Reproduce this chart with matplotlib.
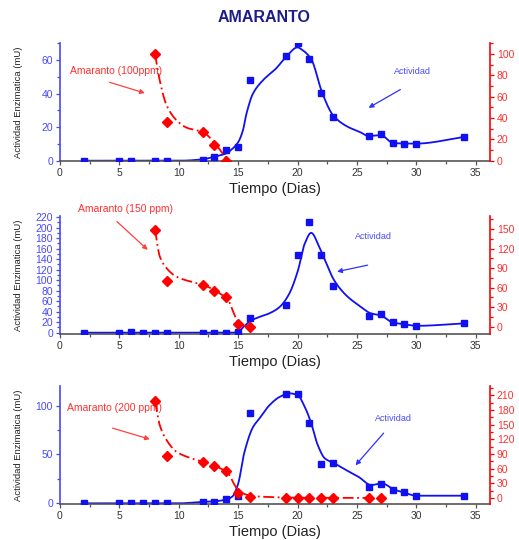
import numpy as np
import matplotlib
matplotlib.use("Agg")
import matplotlib.pyplot as plt
from matplotlib.ticker import MultipleLocator

plt.rcParams['font.family'] = ['Liberation Sans', 'DejaVu Sans']

# ---------------- data ----------------
# Panel 1 : Amaranto 100 ppm
days_act_1 = [2, 5, 6, 8, 9, 12, 13, 14, 15, 16, 19, 20, 21, 22, 23, 26, 27, 28, 29, 30, 34]
act_1 = [0, 0, 0, 0, 0, 0.3, 2.2, 6.2, 8.2, 48, 62.5, 70, 60.3, 40.2, 26.3, 14.6, 15.8, 10.4, 10.2, 10.2, 14.1]
days_conc_1 = [8, 9, 12, 13, 14]
conc_1 = [100, 36, 26.7, 14.5, 0]
fit_act_x_1 = [2, 10, 12, 13, 14, 14.5, 15, 15.4, 15.7, 16.25, 17.1, 18.2, 19.05, 20, 20.4, 21.15, 22.1, 23, 24.2, 25.2, 26, 27, 28, 29, 30, 34]
fit_act_y_1 = [0, 0, 0.8, 2.4, 4.4, 7, 11, 18, 28, 40, 48, 55, 62, 67.5, 66, 60.5, 40, 27, 20.3, 17.3, 14.7, 15.3, 10.7, 10.2, 10.2, 14.1]
fit_conc_x_1 = [8, 8.4, 8.97, 9.8, 10.65, 12.05, 13.2, 14.15, 14.4]
fit_conc_y_1 = [100, 75, 52, 38, 31, 26.7, 14, 0, -3]

# Panel 2 : Amaranto 150 ppm
days_act_2 = [2, 5, 6, 7, 8, 9, 12, 13, 14, 15, 16, 19, 20, 21, 22, 23, 26, 27, 28, 29, 30, 34]
act_2 = [0, 0, 2, 0, 0, 0, 0, 0, 0, 2, 27, 53.6, 148, 211, 148, 88, 32, 35, 19.6, 16, 13, 17.6]
days_conc_2 = [8, 9, 12, 13, 14, 15, 16]
conc_2 = [149, 71, 64, 55, 45, 4, 0]
fit_act_x_2 = [2, 14.5, 15, 15.5, 16, 16.8, 17.65, 18.5, 19.3, 20.03, 20.6, 21.15, 21.85, 22.27, 23.1, 24.1, 25.15, 26.2, 27, 28, 29, 30, 34]
fit_act_y_2 = [0, 0, 2, 12, 22, 30, 37, 49, 74, 118, 169, 190, 162, 140, 99, 71, 52, 36.6, 33, 19.6, 16, 13, 17.6]
fit_conc_x_2 = [8, 8.4, 8.97, 9.8, 11.07, 12.1, 13.2, 14.15, 14.7, 15.1, 16]
fit_conc_y_2 = [149, 108, 90, 77, 69, 64, 54, 41, 18, 4, 0]

# Panel 3 : Amaranto 200 ppm
days_act_3 = [2, 5, 6, 7, 8, 9, 12, 13, 14, 15, 16, 19, 20, 21, 22, 23, 26, 27, 28, 29, 30, 34]
act_3 = [0, 0, 0, 0, 0, 0, 1.7, 1.7, 4, 7.5, 92, 111.5, 111.5, 82, 40, 41.6, 16.4, 19.8, 13.6, 11.6, 7.8, 7.8]
days_conc_3 = [8, 9, 12, 13, 14, 15, 16, 19, 20, 21, 22, 23, 26, 27]
conc_3 = [198, 86, 73.6, 65, 54.5, 11, 2.7, 0, 0, 0, 0, 0, 0, 0]
fit_act_x_3 = [2, 10, 12, 13, 14, 14.5, 15, 15.5, 16.25, 16.8, 17.65, 18.5, 19.3, 20.0, 20.6, 21.15, 21.7, 22.3, 23.1, 24.1, 25.15, 26.2, 27.1, 28.1, 29, 30, 34]
fit_act_y_3 = [0, 0, 1.5, 2, 4, 6.8, 20, 51, 78, 87, 100.6, 109, 112.6, 110.8, 99, 82, 59.7, 46, 41, 34, 27, 18.7, 20.5, 14.3, 10.9, 7.8, 7.8]
fit_conc_x_3 = [8, 8.4, 8.97, 9.8, 11.07, 12.1, 13.2, 14.15, 14.7, 15.1, 16.25, 17.5, 20, 27]
fit_conc_y_3 = [198, 149, 118.6, 94.7, 81, 73.6, 64, 50.5, 26.6, 13, 4, 2, 0.5, 0]

labels_conc = ["Amaranto (100ppm)", "Amaranto (150 ppm)", "Amaranto (200 ppm)"]
title = "AMARANTO"
xlabel = "Tiempo (Dias)"
ylabel = "Actividad Enzimatica (mU)"
label_act = "Actividad"


def pchip(xk, yk, n=400):
    xk = np.asarray(xk, float)
    yk = np.asarray(yk, float)
    h = np.diff(xk)
    d = np.diff(yk) / h
    m = np.zeros_like(xk)
    for i in range(1, len(xk) - 1):
        if d[i - 1] * d[i] > 0:
            w1 = 2 * h[i] + h[i - 1]
            w2 = h[i] + 2 * h[i - 1]
            m[i] = (w1 + w2) / (w1 / d[i - 1] + w2 / d[i])
    m[0] = d[0]
    m[-1] = d[-1]
    xs = np.linspace(xk[0], xk[-1], n)
    idx = np.clip(np.searchsorted(xk, xs) - 1, 0, len(xk) - 2)
    t = (xs - xk[idx]) / h[idx]
    h00 = 2 * t**3 - 3 * t**2 + 1
    h10 = t**3 - 2 * t**2 + t
    h01 = -2 * t**3 + 3 * t**2
    h11 = t**3 - t**2
    ys = h00 * yk[idx] + h10 * h[idx] * m[idx] + h01 * yk[idx + 1] + h11 * h[idx] * m[idx + 1]
    return xs, ys


BLUE = "#1010f0"
BLUE_TXT = "#4848ff"
RED = "#ff0000"
RED_TXT = "#ff3030"

fig = plt.figure(figsize=(5.19, 5.40), dpi=100)
fig.text(0.508, 0.968, title, ha="center", va="center", fontsize=11.5, fontweight="bold", color="#1c1c8a")

panels = [
    dict(rect=[0.1156, 0.7024, 0.8284, 0.2176], act=(days_act_1, act_1), conc=(days_conc_1, conc_1),
         fa=(fit_act_x_1, fit_act_y_1), fc=(fit_conc_x_1, fit_conc_y_1),
         ylim_l=(0, 70), ylim_r=(0, 110), maj_l=20, min_l=10, maj_r=20, min_r=10,
         lab=(0.84, 53.5), arr_r=((3.95, 47.2), (7.37, 39.8)),
         act_txt=(28.15, 53.4), arr_b=((28.86, 43.2), (25.78, 30.7))),
    dict(rect=[0.1156, 0.3815, 0.8284, 0.2185], act=(days_act_2, act_2), conc=(days_conc_2, conc_2),
         fa=(fit_act_x_2, fit_act_y_2), fc=(fit_conc_x_2, fit_conc_y_2),
         ylim_l=(-2.5, 222), ylim_r=(-11, 170), maj_l=20, min_l=10, maj_r=30, min_r=15,
         lab=(1.51, 234.7), arr_r=((4.62, 215), (7.56, 154)),
         act_txt=(24.85, 182.5), arr_b=((26.13, 129.6), (23.1, 115))),
    dict(rect=[0.1156, 0.0661, 0.8284, 0.2189], act=(days_act_3, act_3), conc=(days_conc_3, conc_3),
         fa=(fit_act_x_3, fit_act_y_3), fc=(fit_conc_x_3, fit_conc_y_3),
         ylim_l=(-1, 120), ylim_r=(-13, 229), maj_l=50, min_l=25, maj_r=30, min_r=15,
         lab=(0.56, 97.8), arr_r=((4.2, 77.8), (7.79, 64.8)),
         act_txt=(26.55, 86.6), arr_b=((27.4, 74), (24.73, 36.8))),
]

for i, p in enumerate(panels):
    ax = fig.add_axes(p["rect"])
    axr = ax.twinx()
    # activity (left axis)
    fx, fy = pchip(*p["fa"])
    ax.plot(fx, fy, color=BLUE, lw=1.3, zorder=2)
    ax.plot(p["act"][0], p["act"][1], ls="none", marker="s", ms=5, color=BLUE, zorder=3)
    # concentration (right axis)
    cx, cy = pchip(*p["fc"])
    axr.plot(cx, cy, color=RED, lw=1.3, ls=(0, (6, 2, 1, 2)), zorder=2)
    axr.plot(p["conc"][0], p["conc"][1], ls="none", marker="D", ms=5, color=RED, zorder=3)

    ax.set_xlim(0, 36.2)
    ax.set_ylim(*p["ylim_l"])
    axr.set_ylim(*p["ylim_r"])

    ax.xaxis.set_major_locator(MultipleLocator(5))
    ax.xaxis.set_minor_locator(MultipleLocator(2.5))
    ax.yaxis.set_major_locator(MultipleLocator(p["maj_l"]))
    ax.yaxis.set_minor_locator(MultipleLocator(p["min_l"]))
    axr.yaxis.set_major_locator(MultipleLocator(p["maj_r"]))
    axr.yaxis.set_minor_locator(MultipleLocator(p["min_r"]))

    for a in (ax, axr):
        a.spines["top"].set_visible(False)
        a.patch.set_visible(False)
    ax.spines["right"].set_visible(False)
    axr.spines["left"].set_visible(False)
    axr.spines["bottom"].set_visible(False)
    ax.spines["left"].set_color(BLUE_TXT)
    axr.spines["right"].set_color(RED)
    ax.spines["bottom"].set_color("#555555")
    ax.spines["left"].set_linewidth(1.2)
    axr.spines["right"].set_linewidth(1.2)
    ax.spines["bottom"].set_linewidth(1.2)

    ax.tick_params(axis="x", which="both", direction="out", colors="#555555", labelcolor="#333333",
                   labelsize=7.5, length=3, width=0.9, pad=2)
    ax.tick_params(axis="x", which="minor", length=2)
    ax.tick_params(axis="y", which="both", direction="out", colors=BLUE_TXT, labelcolor=BLUE_TXT,
                   labelsize=7.5, length=3, width=0.9, pad=2)
    ax.tick_params(axis="y", which="minor", length=2)
    axr.tick_params(axis="y", which="both", direction="out", colors=RED, labelcolor=RED_TXT,
                    labelsize=7.5, length=3, width=0.9, pad=2)
    axr.tick_params(axis="y", which="minor", length=2)

    ax.set_xlabel(xlabel, fontsize=10.5, color="#222222", labelpad=3)
    ax.set_ylabel(ylabel, fontsize=6.8, color="#222222")
    ax.yaxis.set_label_coords(-0.085, 0.5)

    # annotations
    ax.text(p["lab"][0], p["lab"][1], labels_conc[i], color=RED_TXT, fontsize=7.5,
            ha="left", va="center", clip_on=False, zorder=5)
    ax.annotate("", xy=p["arr_r"][1], xytext=p["arr_r"][0],
                arrowprops=dict(arrowstyle="-|>", color="#ff4040", lw=0.9, mutation_scale=7),
                annotation_clip=False)
    ax.text(p["act_txt"][0], p["act_txt"][1], label_act, color=BLUE_TXT, fontsize=6.5,
            ha="left", va="center", clip_on=False, zorder=5)
    ax.annotate("", xy=p["arr_b"][1], xytext=p["arr_b"][0],
                arrowprops=dict(arrowstyle="-|>", color="#3030ff", lw=0.9, mutation_scale=7),
                annotation_clip=False)

fig.savefig("out.png", dpi=100)
